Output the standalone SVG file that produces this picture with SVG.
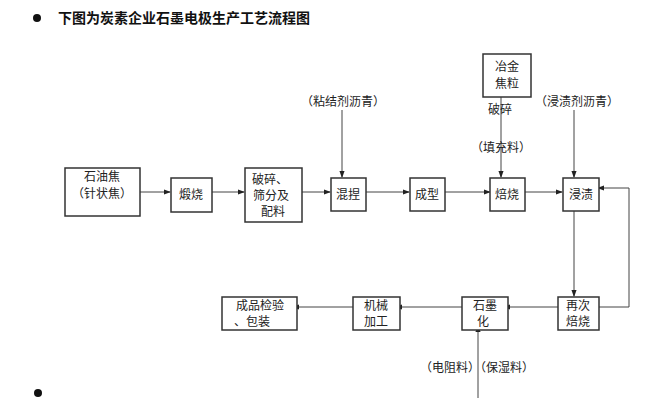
<svg xmlns="http://www.w3.org/2000/svg" width="651" height="419" viewBox="0 0 651 419">
<style>
text{font-family:"Noto Sans CJK SC","Liberation Serif",serif;font-size:12px;fill:#222;}
.title{font-size:14px;font-weight:bold;fill:#111;}
.box{fill:#fff;stroke:#333;stroke-width:1.5;}
.ln{fill:none;stroke:#444;stroke-width:1;}
.c{text-anchor:middle;}
</style>
<defs>
<marker id="ah" viewBox="0 0 8 8" refX="7" refY="4" markerWidth="7" markerHeight="7" markerUnits="userSpaceOnUse" orient="auto">
<path d="M0,1 L8,4 L0,7 z" fill="#222"/>
</marker>
</defs>
<rect width="651" height="419" fill="#fff"/>
<circle cx="37" cy="18" r="4" fill="#111"/>
<text class="title" x="58" y="23">下图为炭素企业石墨电极生产工艺流程图</text>
<circle cx="38" cy="393" r="4" fill="#111"/>

<g id="connectors">
<line class="ln" x1="132" y1="192" x2="170" y2="192" marker-end="url(#ah)"/>
<line class="ln" x1="205" y1="192" x2="244" y2="192" marker-end="url(#ah)"/>
<line class="ln" x1="295" y1="192" x2="330" y2="192" marker-end="url(#ah)"/>
<line class="ln" x1="360" y1="192" x2="409" y2="192" marker-end="url(#ah)"/>
<line class="ln" x1="440" y1="192" x2="490" y2="192" marker-end="url(#ah)"/>
<line class="ln" x1="520" y1="192" x2="562" y2="192" marker-end="url(#ah)"/>
<line class="ln" x1="342" y1="110" x2="342" y2="177" marker-end="url(#ah)"/>
<line class="ln" x1="501" y1="97" x2="501" y2="177" marker-end="url(#ah)"/>
<line class="ln" x1="574" y1="110" x2="574" y2="177" marker-end="url(#ah)"/>
<line class="ln" x1="574" y1="211" x2="574" y2="296" marker-end="url(#ah)"/>
<polyline class="ln" points="590,307 629,307 629,188 598,188" marker-end="url(#ah)"/>
<line class="ln" x1="558" y1="307" x2="504" y2="307" marker-end="url(#ah)"/>
<line class="ln" x1="462" y1="307" x2="396" y2="307" marker-end="url(#ah)"/>
<line class="ln" x1="353" y1="307" x2="293" y2="307" marker-end="url(#ah)"/>
<line class="ln" x1="478" y1="398" x2="478" y2="326" marker-end="url(#ah)"/>
</g>

<g id="n-shiyoujiao"><rect class="box" x="65" y="168" width="75" height="48"/>
<text class="c" x="102" y="181">石油焦</text><text class="c" x="102" y="198">（针状焦）</text></g>
<g id="n-duanshao"><rect class="box" x="171" y="178" width="41" height="34"/>
<text class="c" x="191" y="199">煅烧</text></g>
<g id="n-posui"><rect class="box" x="245" y="168" width="57" height="54"/>
<text x="252" y="184">破碎、</text><text x="253" y="200">筛分及</text><text class="c" x="273" y="216">配料</text></g>
<g id="n-hunnie"><rect class="box" x="331" y="178" width="35" height="33"/>
<text class="c" x="348" y="199">混捏</text></g>
<g id="n-chengxing"><rect class="box" x="410" y="178" width="35" height="33"/>
<text class="c" x="427" y="199">成型</text></g>
<g id="n-beishao"><rect class="box" x="490" y="178" width="35" height="33"/>
<text class="c" x="507" y="199">焙烧</text></g>
<g id="n-jinzi"><rect class="box" x="563" y="178" width="36" height="33"/>
<text class="c" x="581" y="199">浸渍</text></g>
<g id="n-yejin"><rect class="box" x="483" y="54" width="48" height="43"/>
<text class="c" x="507" y="71">冶金</text><text class="c" x="507" y="88">焦粒</text></g>
<g id="n-zaici"><rect class="box" x="558" y="297" width="41" height="33"/>
<text class="c" x="578" y="310">再次</text><text class="c" x="578" y="326">焙烧</text></g>
<g id="n-shimohua"><rect class="box" x="462" y="297" width="46" height="33"/>
<text class="c" x="485" y="310">石墨</text><text class="c" x="483" y="326">化</text></g>
<g id="n-jixie"><rect class="box" x="353" y="297" width="47" height="33"/>
<text class="c" x="376" y="310">机械</text><text class="c" x="376" y="326">加工</text></g>
<g id="n-chengpin"><rect class="box" x="222" y="297" width="75" height="33"/>
<text class="c" x="260" y="310">成品检验</text><text class="c" x="252" y="326">、包装</text></g>

<g id="labels">
<text class="c" x="343" y="106">（粘结剂沥青）</text>
<text class="c" x="500" y="114">破碎</text>
<text class="c" x="501" y="152">（填充料）</text>
<text class="c" x="577" y="106">（浸渍剂沥青）</text>
<text class="c" x="477" y="372">（电阻料）（保湿料）</text>
</g>
</svg>
